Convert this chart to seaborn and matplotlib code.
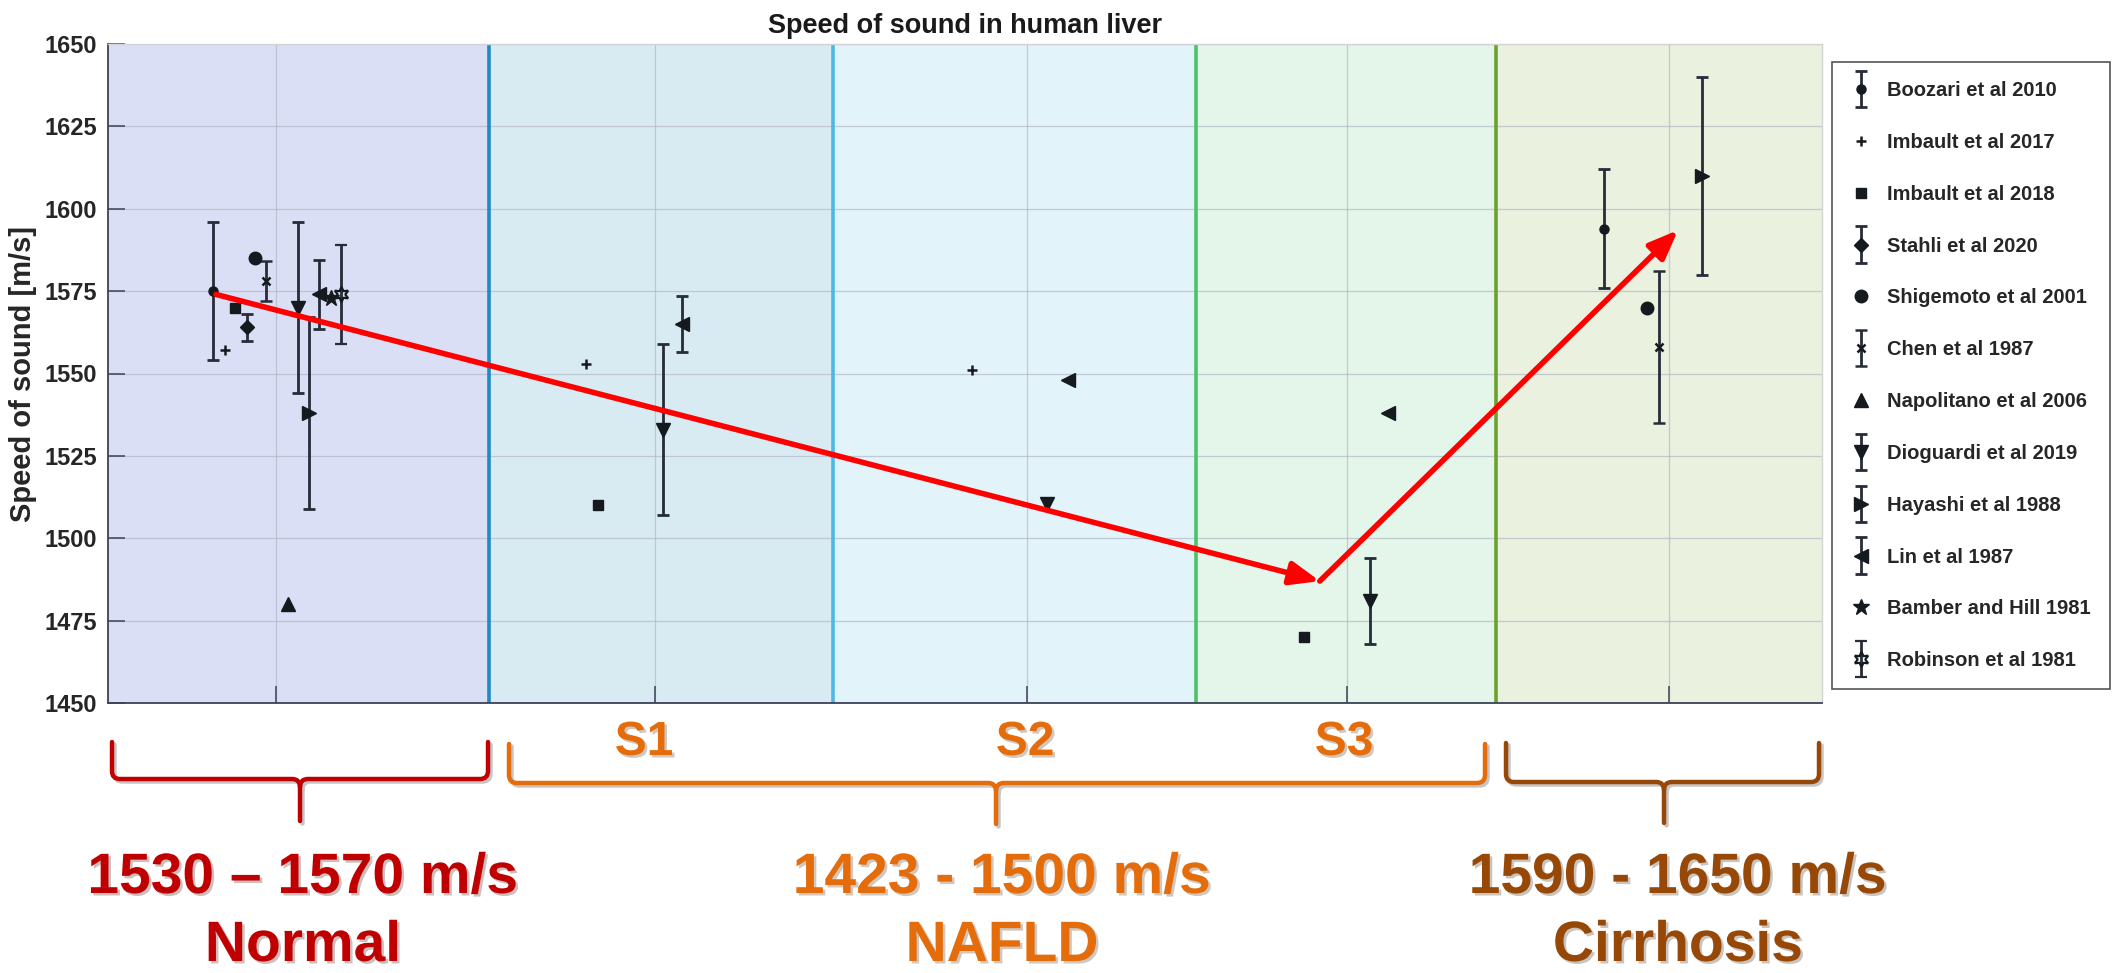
import numpy as np
import matplotlib
matplotlib.use("Agg")
import matplotlib.pyplot as plt
import seaborn as sns
from matplotlib.path import Path
from matplotlib.patches import PathPatch
from matplotlib.transforms import Affine2D
from matplotlib.container import ErrorbarContainer
from matplotlib.legend_handler import HandlerErrorbar
import matplotlib.patheffects as pe

# ---------------- data ----------------
nan = np.nan
boozari_x = [0.61, 8.73]
boozari_y = [1575, 1594]
boozari_err = [21, 18]

imbault17_x = [0.68, 2.79, 5.04]
imbault17_y = [1557, 1553, 1551]

imbault18_x = [0.74, 2.86, 6.98]
imbault18_y = [1570, 1510, 1470]

stahli_x = [0.81]
stahli_y = [1564]
stahli_err = [4]

shigemoto_x = [0.86, 8.98]
shigemoto_y = [1585, 1570]

chen_x = [0.92, 9.05]
chen_y = [1578, 1558]
chen_err = [6, 23]

napolitano_x = [1.05]
napolitano_y = [1480]

dioguardi_x = [1.11, 3.24, 5.48, 7.36]
dioguardi_y = [1570, 1533, 1510.5, 1481]
dioguardi_err = [26, 26, nan, 13]

hayashi_x = [1.17, 9.30]
hayashi_y = [1538, 1610]
hayashi_err = [29, 30]

lin_x = [1.23, 3.35, 5.60, 7.47]
lin_y = [1574, 1565, 1548, 1538]
lin_err = [10.5, 8.5, nan, nan]

bamber_x = [1.30]
bamber_y = [1573]

robinson_x = [1.36]
robinson_y = [1574]
robinson_err = [15]

# trend arrows (x, speed)
arrow_x = [0.63, 7.07, 9.16]
arrow_y = [1574, 1487, 1593.5]

# stage regions
region_edges = [0.0, 2.22, 4.23, 6.35, 8.10, 10.0]
region_fill = ["#dadff5", "#d9ebf2", "#e3f3fa", "#e4f5ea", "#eaf1df"]
divider_colors = ["#1e8bc3", "#4db8e8", "#4cc26a", "#6ba22e"]
xgrid = [0.98, 3.19, 5.36, 7.23, 9.11]
yticks = [1450, 1475, 1500, 1525, 1550, 1575, 1600, 1625, 1650]

# ---------------- style ----------------
sns.set_theme(style="whitegrid")
plt.rcParams["font.family"] = ["Liberation Sans", "DejaVu Sans"]

W, H = 2114, 973
fig = plt.figure(figsize=(W / 100, H / 100), dpi=100)
fig.patch.set_facecolor("white")
ax = fig.add_axes([108 / W, 1 - 703 / H, (1822 - 108) / W, (703 - 44) / H])
ax.set_facecolor("white")

for i in range(len(region_fill)):
    ax.axvspan(region_edges[i], region_edges[i + 1], color=region_fill[i], zorder=0.1, lw=0)
for e, c in zip(region_edges[1:-1], divider_colors):
    ax.axvline(e, color=c, lw=2.6, zorder=0.6)

ax.set_axisbelow(True)
ax.grid(True, color="#aeb3c2", lw=0.9, alpha=0.65)

mk = "#151a1f"
ecol = "#262c38"
common = dict(linestyle="none", color=mk, ecolor=ecol, elinewidth=2.0,
              capsize=4.5, capthick=2.0, zorder=5)

series = [
    ("Boozari et al 2010", boozari_x, boozari_y, boozari_err, dict(marker="o", ms=6.5)),
    ("Imbault et al 2017", imbault17_x, imbault17_y, None, dict(marker="+", ms=7.5, mew=1.8)),
    ("Imbault et al 2018", imbault18_x, imbault18_y, None, dict(marker="s", ms=6.5)),
    ("Stahli et al 2020", stahli_x, stahli_y, stahli_err, dict(marker="D", ms=7)),
    ("Shigemoto et al 2001", shigemoto_x, shigemoto_y, None, dict(marker="o", ms=9)),
    ("Chen et al 1987", chen_x, chen_y, chen_err, dict(marker="x", ms=5.5, mew=1.8)),
    ("Napolitano et al 2006", napolitano_x, napolitano_y, None, dict(marker="^", ms=10)),
    ("Dioguardi et al 2019", dioguardi_x, dioguardi_y, dioguardi_err, dict(marker="v", ms=10)),
    ("Hayashi et al 1988", hayashi_x, hayashi_y, hayashi_err, dict(marker=">", ms=10)),
    ("Lin et al 1987", lin_x, lin_y, lin_err, dict(marker="<", ms=10)),
    ("Bamber and Hill 1981", bamber_x, bamber_y, None, dict(marker="*", ms=12)),
    ("Robinson et al 1981", robinson_x, robinson_y, robinson_err,
     dict(marker=(6, 1, 0), ms=11, mfc="none", mew=1.6)),
]

handles, labels = [], []
for name, xs, ys, err, mstyle in series:
    kw = dict(common)
    kw.update(mstyle)
    h = ax.errorbar(xs, ys, yerr=err, label=name, **kw)
    handles.append(h)
    labels.append(name)

# red trend arrows
for i in range(len(arrow_x) - 1):
    ax.annotate("", xy=(arrow_x[i + 1], arrow_y[i + 1]), xytext=(arrow_x[i], arrow_y[i]),
                arrowprops=dict(arrowstyle="-|>,head_length=0.8,head_width=0.32",
                                color="#ff0000", lw=4.0, shrinkA=0, shrinkB=0,
                                mutation_scale=22,
                                path_effects=[pe.SimplePatchShadow(offset=(1.5, -1.5), alpha=0.25),
                                              pe.Normal()]),
                zorder=6)

ax.set_xlim(region_edges[0], region_edges[-1])
ax.set_ylim(yticks[0], yticks[-1])
ax.set_xticks(xgrid)
ax.set_xticklabels([])
ax.set_yticks(yticks)
ax.set_yticklabels([str(t) for t in yticks], fontsize=17, fontweight="bold", color="#262626")
ax.tick_params(axis="both", direction="in", length=12, width=1.1, color="#3c4257",
               left=True, bottom=True, pad=8)

for s in ["top", "right"]:
    ax.spines[s].set_color("#d4d4d4")
    ax.spines[s].set_linewidth(1.0)
for s in ["left", "bottom"]:
    ax.spines[s].set_color("#3c4257")
    ax.spines[s].set_linewidth(1.3)

ax.set_title("Speed of sound in human liver", fontsize=19.5, fontweight="bold",
             color="#1a1a1a", pad=8)
ax.set_ylabel("Speed of sound [m/s]", fontsize=21, fontweight="bold", color="#262626")
ax.yaxis.set_label_coords(-0.0414, 0.5)

leg = fig.legend(handles, labels, loc="upper left",
                 bbox_to_anchor=(1832 / W, 1 - 62 / H), bbox_transform=fig.transFigure,
                 prop={"family": "Liberation Sans", "weight": "bold", "size": 14.5},
                 frameon=True, fancybox=False, edgecolor="#555555", framealpha=1,
                 labelspacing=1.63, borderpad=0.95, handlelength=1.0, handletextpad=0.8,
                 borderaxespad=0,
                 handler_map={ErrorbarContainer: HandlerErrorbar(yerr_size=0.9)})
leg.get_frame().set_linewidth(1.2)

# ---------------- bottom annotations (figure pixel coords) ----------------
px = Affine2D().scale(1 / W, -1 / H).translate(0, 1) + fig.transFigure
shadow = [pe.SimplePatchShadow(offset=(1.8, -1.8), alpha=0.25), pe.Normal()]
line_shadow = [pe.SimpleLineShadow(offset=(1.8, -1.8), alpha=0.25), pe.Normal()]

c_norm, c_nafld, c_cirr = "#c00000", "#e46c0a", "#974806"


def brace(x0, x1, xm, ytop, ybar, ytip, color):
    r = 8
    verts = [(x0, ytop), (x0, ybar - r), (x0, ybar), (x0 + r, ybar),
             (xm - r, ybar), (xm, ybar), (xm, ybar + r), (xm, ytip),
             (xm, ybar + r), (xm, ybar), (xm + r, ybar),
             (x1 - r, ybar), (x1, ybar), (x1, ybar - r), (x1, ytop)]
    codes = [Path.MOVETO, Path.LINETO, Path.CURVE3, Path.CURVE3,
             Path.LINETO, Path.CURVE3, Path.CURVE3, Path.LINETO,
             Path.MOVETO, Path.CURVE3, Path.CURVE3,
             Path.LINETO, Path.CURVE3, Path.CURVE3, Path.LINETO]
    p = PathPatch(Path(verts, codes), transform=px, fill=False, edgecolor=color,
                  lw=3.2, capstyle="round", joinstyle="round", path_effects=line_shadow)
    fig.add_artist(p)


brace(112, 488, 300, 742, 779, 821, c_norm)
brace(509, 1485, 996, 744, 783, 824, c_nafld)
brace(1506, 1819, 1664, 743, 782, 823, c_cirr)

big = dict(fontsize=41, fontweight="bold", ha="center", va="baseline", transform=px,
           path_effects=shadow)
small = dict(fontsize=34.5, fontweight="bold", ha="center", va="baseline", transform=px,
             path_effects=shadow)
fig.text(644, 755, "S1", color=c_nafld, **small)
fig.text(1025, 755, "S2", color=c_nafld, **small)
fig.text(1344, 755, "S3", color=c_nafld, **small)
fig.text(303, 893, "1530 \u2013 1570 m/s", color=c_norm, **big)
fig.text(303, 961, "Normal", color=c_norm, **big)
fig.text(1002, 893, "1423 - 1500 m/s", color=c_nafld, **big)
fig.text(1002, 961, "NAFLD", color=c_nafld, **big)
fig.text(1678, 893, "1590 - 1650 m/s", color=c_cirr, **big)
fig.text(1678, 961, "Cirrhosis", color=c_cirr, **big)

fig.savefig("out.png", dpi=100)
